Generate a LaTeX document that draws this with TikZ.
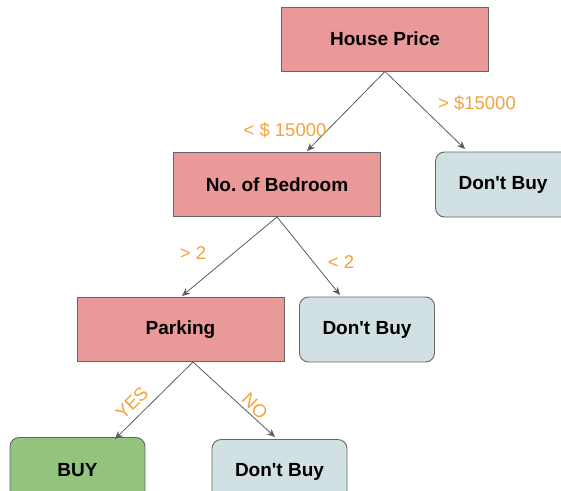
\documentclass[tikz,border=0pt]{standalone}
\usepackage{fontspec}
% plain family: no TeX ligatures, so ' stays a straight apostrophe
\newfontfamily\diagfont{Liberation Sans}
\usetikzlibrary{arrows.meta,calc}
\frenchspacing
\definecolor{decpink}{HTML}{EA9999}
\definecolor{leafblue}{HTML}{D0E0E3}
\definecolor{leafgreen}{HTML}{93C47D}
\definecolor{edgegray}{HTML}{666666}
\definecolor{condorange}{HTML}{F4A23C}
\begin{document}
\begin{tikzpicture}[x=1pt,y=-1pt,
  decision/.style={rectangle, draw=edgegray, line width=0.9pt, fill=decpink,
    minimum width=207pt, minimum height=64pt, inner sep=0pt,
    font=\diagfont\fontsize{19}{22}\selectfont\bfseries},
  leaf/.style={rectangle, rounded corners=9pt, draw=edgegray, line width=0.9pt,
    fill=leafblue, minimum width=135pt, minimum height=65pt, inner sep=0pt,
    font=\diagfont\fontsize{19}{22}\selectfont\bfseries},
  branch/.style={draw=edgegray!90!black, line width=0.8pt,
    -{Stealth[length=8pt,width=7pt]}},
  cond/.style={text=condorange, font=\diagfont\fontsize{18.5}{21}\selectfont, inner sep=0pt}]
\useasboundingbox (0,0) rectangle (561,490);
\begin{scope}
\clip (0,0) rectangle (561,490);

% decision nodes
\node[decision] (price)   at (385,39)    {House Price};
\node[decision] (bedroom) at (277,184.5) {No.\ of Bedroom};
\node[decision] (parking) at (180.5,329.5) {Parking};

% leaves
\node[leaf] (nobuy1) at (503,184.5) {Don't Buy};
\node[leaf] (nobuy2) at (367,329.5) {Don't Buy};
\node[leaf, fill=leafgreen] (buy) at (77.5,470) {BUY};
\node[leaf] (nobuy3) at (279.5,472) {Don't Buy};

% arrow tips
\coordinate (t1) at (307,151);
\coordinate (t2) at (465,149);
\coordinate (t3) at (182,296);
\coordinate (t4) at (340,295);
\coordinate (t5) at (115,439);
\coordinate (t6) at (275,437);
\coordinate (pk) at (193,362);

\draw[branch] (price.south) -- (t1);
\draw[branch] (price.south) -- (t2);
\draw[branch] (bedroom.south) -- (t3);
\draw[branch] (bedroom.south) -- (t4);
\draw[branch] (pk) -- (t5);
\draw[branch] (pk) -- (t6);

% branch conditions
\node[cond] (c1) at (285,130) {< \$ 15000};
\node[cond] (c2) at (477,103) {> \$15000};
\node[cond] (c3) at (193,253) {> 2};
\node[cond] (c4) at (341,262) {< 2};
\node[cond, rotate=45] (c5) at (132,403) {YES};
\node[cond, rotate=-45] (c6) at (255,406) {NO};
\end{scope}
\end{tikzpicture}
\end{document}
